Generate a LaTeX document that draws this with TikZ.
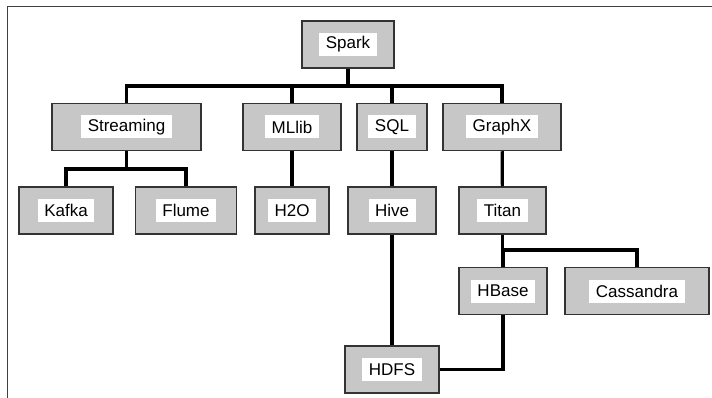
\documentclass[tikz,border=0pt]{standalone}
\usepackage{fontspec}
\setmainfont{Liberation Sans}

\tikzstyle{comp}=[draw=black!80, fill=black!22, line width=1.5pt, minimum height=47pt, inner sep=0pt]
\tikzstyle{tag}=[fill=white, inner xsep=6.5pt, inner ysep=0pt, minimum height=23pt, font=\fontsize{17}{20}\selectfont]
\tikzstyle{link}=[line width=3.2pt]

\begin{document}
\begin{tikzpicture}[x=1pt, y=-1pt]
      \useasboundingbox (0,0) rectangle (712,398);
      \draw[black!75, line width=1pt] (712,7) -- (7,7) -- (7,398);

      % top
      \node[comp, minimum width=92pt, label={[tag]center:Spark}] (spark) at (348, 44.5) {};

      % modules
      \node[comp, minimum width=149pt, label={[tag]center:Streaming}] (stream) at (126.5, 127) {};
      \node[comp, minimum width=98pt, label={[tag]center:MLlib}] (mllib) at (292, 127) {};
      \node[comp, minimum width=70pt, label={[tag]center:SQL}] (sql) at (392, 127) {};
      \node[comp, minimum width=118pt, label={[tag]center:GraphX}] (graphx) at (502, 127) {};

      % integrations
      \node[comp, minimum width=94pt, label={[tag]center:Kafka}] (kafka) at (66, 210.5) {};
      \node[comp, minimum width=101pt, label={[tag]center:Flume}] (flume) at (186, 210.5) {};
      \node[comp, minimum width=74pt, label={[tag]center:H2O}] (h2o) at (292, 210.5) {};
      \node[comp, minimum width=88pt, label={[tag]center:Hive}] (hive) at (392, 210.5) {};
      \node[comp, minimum width=87pt, label={[tag]center:Titan}] (titan) at (502.5, 210.5) {};

      % storage
      \node[comp, minimum width=88pt, label={[tag]center:HBase}] (hbase) at (503, 291) {};
      \node[comp, minimum width=144pt, label={[tag]center:Cassandra}] (cass) at (637, 291) {};
      \node[comp, minimum width=94pt, label={[tag]center:HDFS}] (hdfs) at (392, 369.5) {};

      \coordinate (bus) at (348, 86);
      \coordinate (sfork) at (126.5, 169);
      \coordinate (tfork) at (502.5, 250);

      \draw[link] (spark) -- (bus) -| (stream);
      \draw[link] (bus) -| (mllib);
      \draw[link] (bus) -| (sql);
      \draw[link] (bus) -| (graphx);

      \draw[link] (stream) -- (sfork) -| (kafka);
      \draw[link] (sfork) -| (flume);
      \draw[link] (mllib) -- (h2o);
      \draw[link] (sql) -- (hive);
      \draw[link] (graphx) -- (titan);

      \draw[link] (titan) -- (tfork) -| (hbase);
      \draw[link] (tfork) -| (cass);
      \draw[link] (hive) -- (hdfs);
      \draw[link] (hbase) |- (hdfs);
\end{tikzpicture}
\end{document}
